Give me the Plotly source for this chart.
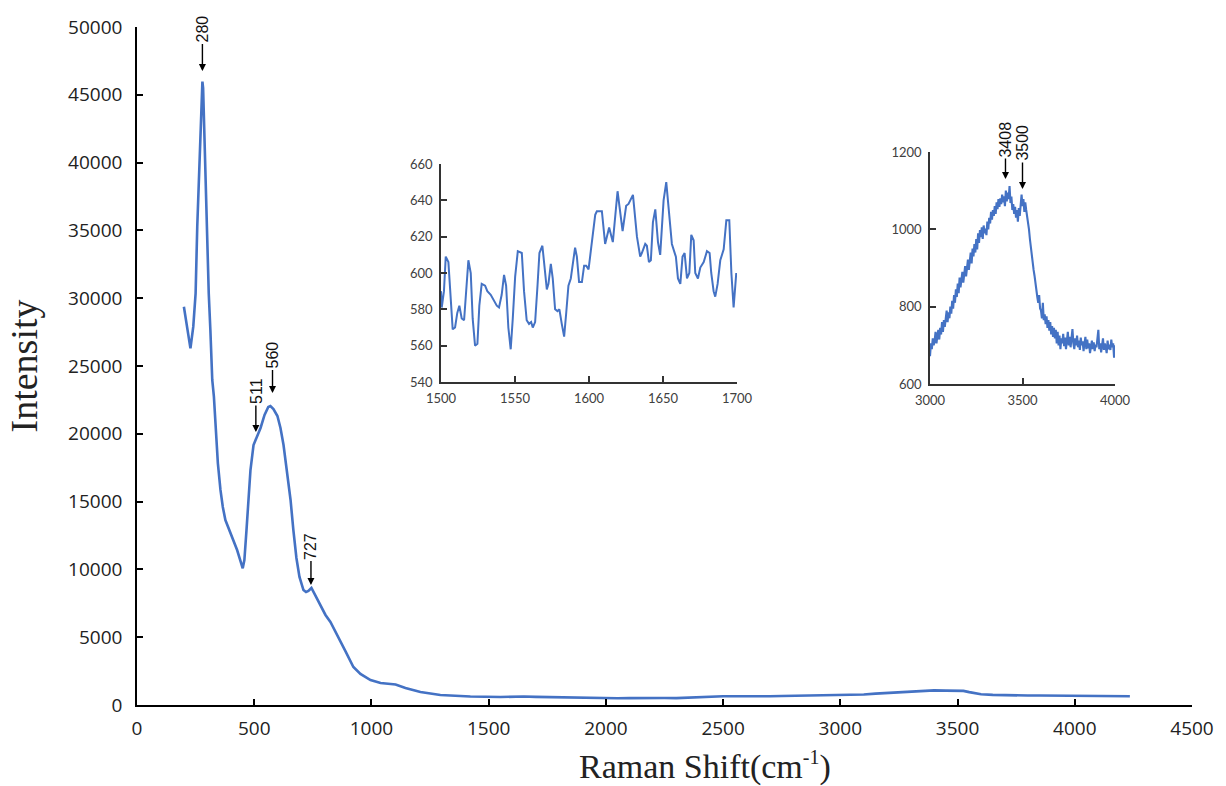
import plotly.graph_objects as go

# ---------------- Main spectrum (Raman shift, intensity) ----------------
main_x = [200, 214, 228, 240, 250, 257, 267, 274, 279, 282, 285, 288, 296, 306, 313, 321,
          328, 336, 345, 356, 366, 377, 399, 427, 451, 458, 467, 475, 484, 497, 505, 515,
          527, 544, 560, 569, 582, 599, 612, 625, 640, 655, 667, 680, 693, 710, 721, 731,
          744, 761, 782, 804, 825, 855, 889, 923, 953, 996, 1039, 1082, 1103, 1145, 1209,
          1294, 1422, 1550, 1600, 1650, 1700, 1750, 1800, 1850, 1900, 1950, 2000, 2050,
          2100, 2150, 2200, 2250, 2300, 2350, 2400, 2450, 2500, 2550, 2600, 2650, 2700,
          2750, 2800, 2850, 2900, 2950, 3000, 3050, 3100, 3150, 3200, 3250, 3300, 3350,
          3400, 3450, 3500, 3525, 3550, 3575, 3600, 3650, 3700, 3750, 3800, 3850, 3900,
          3950, 4000, 4050, 4100, 4150, 4200, 4235]
main_y = [29370, 27900, 26300, 27900, 30360, 35270, 40190, 43880, 45970, 45500, 43500, 40190,
          35270, 30360, 27650, 23970, 22740, 20200, 17820, 15860, 14600, 13640, 12660, 11430,
          10080, 10690, 12900, 15120, 17330, 19170, 19500, 19840, 20430, 21390, 21980, 22050,
          21830, 21310, 20430, 19170, 17330, 15120, 12900, 10840, 9440, 8480, 8330, 8410,
          8630, 8040, 7370, 6640, 6120, 5160, 3980, 2800, 2290, 1840, 1620, 1550, 1510, 1250,
          960, 740, 630, 590, 615, 625, 600, 580, 555, 540, 520, 505, 495, 500, 510, 525,
          540, 520, 510, 545, 600, 640, 650, 640, 630, 625, 640, 660, 680, 700, 720, 740,
          720, 740, 775, 840, 890, 950, 995, 1040, 1075, 1060, 1065, 1040, 950, 860, 790,
          745, 715, 710, 700, 700, 695, 690, 690, 680, 665, 660, 655, 650]

# ---------------- Inset 1: 1500-1700 cm-1 ----------------
inset1_x = [1500, 1500.5, 1502, 1503.2, 1505, 1506.5, 1507.9, 1509.5, 1511, 1512.4,
            1514, 1515.6, 1516.9, 1518.5, 1520.1, 1521.4, 1523, 1524.6, 1525.9, 1527.5,
            1529.8, 1531.3, 1533.6, 1535.4, 1537.7, 1539.2, 1541, 1542.6, 1544, 1545.5,
            1547.1, 1548.5, 1550.1, 1551.9, 1554.6, 1556.1, 1557.9, 1559.5, 1560.9, 1562,
            1563.6, 1565.2, 1566.5, 1568.5, 1569.9, 1571.5, 1572.6, 1574.2, 1575.5, 1577.1,
            1578.7, 1580, 1581.6, 1583.2, 1584.6, 1586.1, 1587.7, 1589.1, 1590.6, 1591.8,
            1593.3, 1595.2, 1596.7, 1598.1, 1599.7, 1601.2, 1603, 1604.2,
            1605.3, 1608.7, 1610.9, 1613.6, 1616.1, 1619.3, 1622.7, 1625.1, 1626.7, 1629.7,
            1632.4, 1634.6, 1635.7, 1638, 1639.1, 1640.5, 1641.8, 1643.2, 1644.8, 1646.6,
            1648.1, 1650.4, 1652.2, 1653.8, 1656, 1658.3, 1658.7, 1660.1, 1661.7, 1663.2,
            1664.6, 1666.2, 1667.8, 1669.1, 1670.7, 1671.8, 1673.6, 1675.2, 1677.5, 1679.7,
            1681.5, 1682.6, 1684.2, 1685.3, 1686.9, 1688.7, 1691, 1692.8, 1694.8, 1696.2,
            1697.7, 1699.5]
inset1_y = [590, 581, 590, 609, 606, 585, 569, 570, 578, 582,
            575, 574, 590, 607, 600, 575, 560, 561, 582, 594,
            593, 590, 588, 585, 582, 581, 588, 599, 593, 570,
            558, 575, 598, 612, 611, 590, 574, 572, 573, 570,
            573, 593, 611, 615, 604, 591, 594, 605, 597, 580,
            579, 580, 572, 565, 578, 593, 597, 605, 614, 609,
            595, 595, 604, 604, 602, 612, 624, 632,
            634, 634, 616, 625, 617, 645, 623, 637, 638, 643,
            620, 609, 611, 616, 615, 606, 607, 628, 635, 617,
            610, 640, 650, 635, 616, 610, 609, 597, 594, 609,
            611, 597, 600, 621, 618, 600, 597, 603, 606, 612,
            611, 600, 590, 587, 594, 607, 613, 629, 629, 600,
            581, 600]

# ---------------- Inset 2: 3000-4000 cm-1 (sampled every 5 cm-1) ----------------
inset2_x = list(range(3000, 4001, 5))
inset2_y = [672, 705, 690, 718, 700, 712, 735, 705, 725, 740,
            715, 745, 728, 760, 735, 765, 748, 772, 790, 760,
            785, 770, 800, 782, 815, 795, 830, 810, 845, 825,
            860, 835, 875, 850, 868, 890, 862, 880, 905, 878,
            900, 922, 895, 915, 940, 912, 950, 930, 962, 940,
            975, 948, 990, 965, 998, 980, 1005, 975, 1010, 990,
            1002, 985, 1020, 1000, 1030, 1015, 1045, 1025, 1050, 1035,
            1060, 1040, 1070, 1052, 1078, 1058, 1080, 1065, 1090, 1070,
            1085, 1060, 1100, 1072, 1095, 1078, 1112, 1068, 1085, 1050,
            1065, 1040, 1058, 1030, 1050, 1020, 1055, 1035, 1070, 1090,
            1060, 1078, 1045, 1070, 1050, 1035, 1015, 1000, 975, 950,
            930, 905, 895, 880, 855, 840, 825, 810, 830, 795,
            790, 770, 810, 765, 780, 755, 775, 745, 765, 738,
            760, 728, 750, 722, 745, 718, 740, 705, 735, 700,
            725, 690, 718, 705, 730, 698, 720, 690, 712, 735,
            700, 722, 695, 715, 742, 705, 690, 718, 700, 725,
            695, 712, 688, 720, 700, 710, 685, 705, 722, 690,
            715, 692, 705, 680, 700, 712, 690, 708, 685, 702,
            695, 715, 740, 690, 705, 682, 700, 718, 688, 705,
            695, 680, 712, 690, 702, 688, 715, 695, 705, 668,
            700]

# ---------------- Peak labels ----------------
main_peak_labels = ["280", "511", "560", "727"]
main_peak_x = [279, 507, 578, 742]
main_peak_y = [46750, 20130, 23010, 8850]
main_peak_ay = [-42, -41, -38, -39]

inset2_peak_labels = ["3408", "3500"]
inset2_peak_x = [3408, 3500]
inset2_peak_y = [1130, 1104]
inset2_peak_ay = [-40, -46]

LINE = "#4472C4"
W, H = 1226, 786

fig = go.Figure()
fig.add_trace(go.Scatter(x=main_x, y=main_y, mode="lines",
                         line=dict(color=LINE, width=2.6), xaxis="x", yaxis="y"))
fig.add_trace(go.Scatter(x=inset1_x, y=inset1_y, mode="lines",
                         line=dict(color=LINE, width=2), xaxis="x2", yaxis="y2"))
fig.add_trace(go.Scatter(x=inset2_x, y=inset2_y, mode="lines",
                         line=dict(color=LINE, width=2.1), xaxis="x3", yaxis="y3"))


def px_x(p):
    return p / W


def px_y(p):
    return (H - p) / H


main_tick_font = dict(family="Open Sans", size=19, color="#222222")
inset_tick_font = dict(family="Lato", size=13, color="#404040")

common_main = dict(showgrid=False, zeroline=False, showline=True, linecolor="black",
                   linewidth=1.6, ticks="inside", ticklen=6, tickwidth=1.5,
                   tickcolor="black", tickfont=main_tick_font, automargin=False,
                   tickformat="d")
common_inset = dict(showgrid=False, zeroline=False, showline=True, linecolor="#333333",
                    linewidth=1.5, ticks="inside", ticklen=6, tickwidth=1.5,
                    tickcolor="#333333", tickfont=inset_tick_font, automargin=False,
                    ticklabelstandoff=4, tickformat="d")

fig.update_layout(
    width=W, height=H,
    margin=dict(l=0, r=0, t=0, b=0),
    paper_bgcolor="white", plot_bgcolor="rgba(0,0,0,0)",
    showlegend=False,
    xaxis=dict(domain=[px_x(137), px_x(1192)], range=[0, 4500], dtick=500, tick0=0,
               anchor="y", ticklabelstandoff=5, **common_main),
    yaxis=dict(domain=[px_y(705), px_y(27)], range=[0, 50000], dtick=5000, tick0=0,
               anchor="x", ticklabelstandoff=9,
               title=dict(text="Intensity", standoff=19,
                          font=dict(family="Liberation Serif", size=38, color="#222222")),
               **common_main),
    xaxis2=dict(domain=[px_x(441), px_x(737)], range=[1500, 1700], dtick=50, tick0=1500,
                anchor="y2", **common_inset),
    yaxis2=dict(domain=[px_y(382), px_y(164)], range=[540, 660], dtick=20, tick0=540,
                anchor="x2", **common_inset),
    xaxis3=dict(domain=[px_x(930), px_x(1115)], range=[3000, 4000], dtick=500, tick0=3000,
                anchor="y3", **common_inset),
    yaxis3=dict(domain=[px_y(384), px_y(152)], range=[600, 1200], dtick=200, tick0=600,
                anchor="x3", **common_inset),
)

annotations = []
for lab, xv, yv, ay in zip(main_peak_labels, main_peak_x, main_peak_y, main_peak_ay):
    annotations.append(dict(x=xv, y=yv, xref="x", yref="y", text=lab, showarrow=True,
                            arrowhead=2, arrowsize=1, arrowwidth=1.4, arrowcolor="black",
                            ax=0, ay=ay, textangle=-90,
                            font=dict(family="Liberation Sans", size=16, color="#111111")))
for lab, xv, yv, ay in zip(inset2_peak_labels, inset2_peak_x, inset2_peak_y, inset2_peak_ay):
    annotations.append(dict(x=xv, y=yv, xref="x3", yref="y3", text=lab, showarrow=True,
                            arrowhead=2, arrowsize=1, arrowwidth=1.4, arrowcolor="black",
                            ax=0, ay=ay, textangle=-90,
                            font=dict(family="Liberation Sans", size=16, color="#111111")))

# x-axis title (placed off-centre as in the original figure)
annotations.append(dict(x=px_x(705), y=px_y(766), xref="paper", yref="paper",
                        xanchor="center", yanchor="middle", showarrow=False,
                        text="Raman Shift(cm<sup><span style='font-size:20px'>-1</span></sup>)",
                        font=dict(family="Liberation Serif", size=34, color="#222222")))
fig.update_layout(annotations=annotations)

# remove the default page margin so the figure fills the window exactly
fig.write_html("out.html",
               config={"displayModeBar": False},
               post_script="document.body.style.margin='0';"
                           "document.body.style.overflow='hidden';")
